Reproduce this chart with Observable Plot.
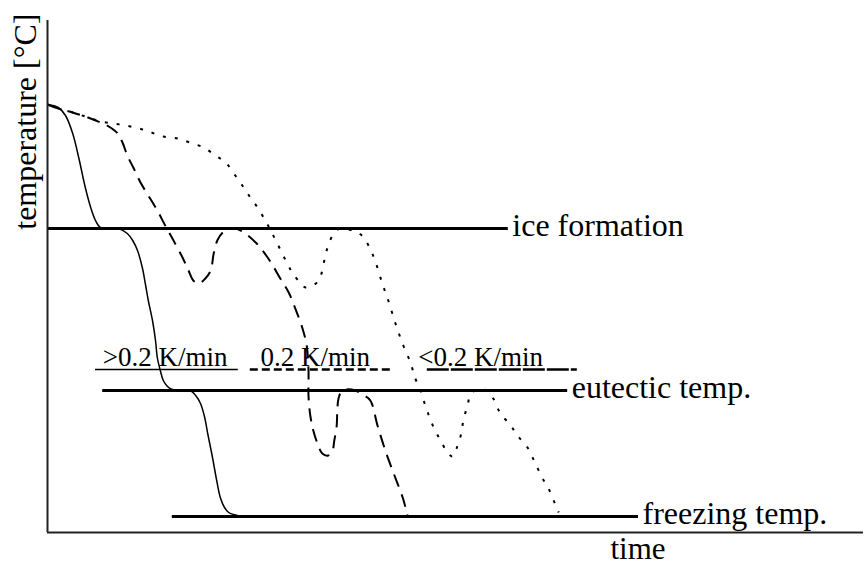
<!DOCTYPE html>
<html>
<head>
<meta charset="utf-8">
<script src="https://cdn.jsdelivr.net/npm/d3@7"></script>
<script src="https://cdn.jsdelivr.net/npm/@observablehq/plot@0.6"></script>
<style>
  html, body { margin: 0; padding: 0; background: #fff; }
  #chart { width: 864px; height: 565px; }
</style>
</head>
<body>
<div id="chart"></div>
<script>
// Schematic freezing curves: temperature against time for three cooling rates.
// Time and temperature are in arbitrary (schematic) units; 0 = ice formation.

const xDomain = [0, 136];
const yDomain = [-30.4, 20.8];

const seriesNames = [">0.2 K/min", "0.2 K/min", "<0.2 K/min"];

// fast cooling (> 0.2 K/min)
const fastCooling = [
  [0, 12.4], [1.8, 12.1], [3.0, 11.3], [4.2, 9.5], [5.2, 7.1], [6.3, 4.1],
  [7.2, 2.1], [8.0, 0.8], [8.8, 0.1], [9.8, 0], [11.8, 0], [13.3, -0.5],
  [14.2, -1.2], [15.0, -2.2], [15.8, -3.9], [16.3, -5.5], [16.8, -7.2],
  [17.5, -9.2], [18.0, -11.2], [18.3, -12.9], [18.8, -14.2], [19.3, -15.2],
  [20.0, -15.8], [20.8, -16.1], [23.8, -16.2], [24.7, -16.7], [25.5, -17.5],
  [26.2, -18.9], [26.7, -20.5], [27.5, -22.9], [28.2, -25.2], [28.8, -26.9],
  [29.5, -27.9], [30.2, -28.4], [31.0, -28.6], [32.2, -28.8]
];

// medium cooling (0.2 K/min)
const mediumCooling = [
  [0, 12.4], [1.8, 12.0], [4.2, 11.6], [6.3, 11.2], [8.8, 10.6], [10.2, 10.2],
  [11.7, 9.5], [12.5, 8.6], [13.3, 7.3], [14.3, 6.1], [15.5, 4.6], [16.8, 3.3],
  [18.3, 1.8], [19.7, 0.2], [21.0, -1.2], [22.5, -2.9], [23.5, -4.2],
  [24.3, -5.2], [25.2, -5.5], [26.3, -5.0], [27.2, -4.2], [27.7, -2.5],
  [28.3, -1.2], [29.2, -0.4], [30.2, 0], [31.3, 0], [32.5, -0.3], [34.7, -1.4],
  [36.8, -3.0], [38.8, -5.0], [40.2, -6.4], [41.3, -8.0], [42.5, -10.0],
  [43.2, -11.7], [43.5, -14.2], [43.5, -16.7], [43.8, -18.7], [44.3, -20.2],
  [45.0, -21.5], [45.8, -22.5], [46.8, -22.7], [47.5, -22.2], [47.8, -21.2],
  [48.2, -19.7], [48.3, -18.2], [48.5, -17.0], [49.0, -16.3], [49.8, -16.1],
  [51.3, -16.2], [52.5, -16.6], [53.8, -17.2], [55.0, -19.7], [56.3, -22.2],
  [57.7, -24.5], [59.2, -26.9], [60.0, -28.7]
];

// slow cooling (< 0.2 K/min)
const slowCooling = [
  [0, 12.4], [1.8, 12.0], [4.2, 11.6], [6.3, 11.2], [8.8, 10.7], [11.0, 10.5],
  [13.0, 10.3], [15.3, 10.0], [17.3, 9.6], [19.3, 9.2], [21.7, 9.0], [23.7, 8.6],
  [26.0, 8.1], [28.0, 7.3], [29.7, 6.6], [31.3, 5.3], [32.7, 4.1], [33.8, 3.1],
  [35.0, 2.1], [36.3, 0.8], [37.2, -0.2], [38.3, -1.5], [39.7, -3.2],
  [40.8, -4.4], [42.2, -5.5], [43.0, -5.9], [44.2, -5.7], [45.2, -5.2],
  [45.8, -4.2], [46.3, -2.7], [46.8, -1.7], [47.7, -0.5], [48.8, 0],
  [50.8, -0.2], [52.2, -0.6], [53.5, -1.7], [54.7, -3.4], [55.8, -5.5],
  [56.8, -7.2], [58.0, -9.5], [59.3, -11.7], [60.5, -13.4], [61.3, -15.0],
  [62.2, -16.2], [62.8, -17.4], [63.5, -18.6], [64.3, -19.8], [65.5, -21.2],
  [66.7, -22.4], [67.5, -22.8], [68.3, -21.8], [69.0, -20.4], [69.3, -19.2],
  [70.0, -17.7], [70.5, -16.6], [71.3, -16.2], [73.3, -16.2], [74.3, -17.0],
  [75.5, -18.5], [77.2, -19.7], [78.3, -20.7], [80.0, -21.9], [81.3, -23.5],
  [82.7, -25.2], [83.5, -26.0], [84.7, -27.7], [85.2, -28.4]
];

// characteristic temperature levels
const levelNames = ["ice formation", "eutectic temp.", "freezing temp."];
const levelTemps = [0, -16.2, -28.8];
const levelFrom = [0, 9.2, 20.8];
const levelTo = [76.8, 86.7, 98.5];

// rate labels above the eutectic line, each underlined in its curve's style
const legendTextAt = [9.2, 35.5, 61.8];
const legendUnderlineFrom = [8.0, 33.8, 63.3];
const legendUnderlineTo = [31.8, 57.2, 88.3];
const legendTemp = -13.7;
const legendUnderlineTemp = -14.1;

const axisLabelY = "temperature [°C]";
const axisLabelX = "time";

const curves = [fastCooling, mediumCooling, slowCooling];
const curveStyles = [
  {strokeWidth: 1.5},
  {strokeWidth: 2, strokeDasharray: "13,8"},
  {strokeWidth: 2, strokeDasharray: "3,9"}
];
const underlineStyles = [
  {strokeWidth: 1.5},
  {strokeWidth: 2.5, strokeDasharray: "8,4"},
  {strokeWidth: 2.5, strokeDasharray: "22,2"}
];

const levels = levelNames.map((name, i) => ({
  name, temp: levelTemps[i], from: levelFrom[i], to: levelTo[i]
}));
const legend = seriesNames.map((name, i) => ({
  name, at: legendTextAt[i], from: legendUnderlineFrom[i], to: legendUnderlineTo[i]
}));

const serif = "'Liberation Serif', 'Times New Roman', serif";

const chart = Plot.plot({
  width: 864,
  height: 565,
  marginLeft: 47,
  marginRight: 1,
  marginTop: 20,
  marginBottom: 33,
  x: {domain: xDomain, axis: null},
  y: {domain: yDomain, axis: null},
  style: {fontFamily: serif, background: "#fff", color: "#000"},
  marks: [
    // the three cooling curves
    ...curves.map((c, i) => Plot.line(c, {
      x: d => d[0], y: d => d[1], curve: "catmull-rom",
      stroke: "#000", strokeLinecap: "butt", ...curveStyles[i]
    })),
    // level lines and their labels
    Plot.ruleY(levels, {y: "temp", x1: "from", x2: "to", stroke: "#000", strokeWidth: 3}),
    Plot.text(levels, {
      x: "to", y: "temp", text: "name", textAnchor: "start", lineAnchor: "bottom",
      dx: 4, dy: 7, fontSize: 32, fill: "#000"
    }),
    // rate labels
    Plot.text(legend, {
      x: "at", y: () => legendTemp, text: "name", textAnchor: "start", lineAnchor: "bottom",
      fontSize: 27, fill: "#000"
    }),
    ...legend.map((d, i) => Plot.ruleY([d], {
      y: () => legendUnderlineTemp, x1: "from", x2: "to", stroke: "#000", ...underlineStyles[i]
    })),
    // axes
    Plot.ruleX([xDomain[0]], {stroke: "#222", strokeWidth: 2}),
    Plot.ruleY([yDomain[0]], {stroke: "#222", strokeWidth: 2}),
    Plot.text([axisLabelY], {
      frameAnchor: "top-left", text: d => d, rotate: -90,
      textAnchor: "end", lineAnchor: "bottom", dx: -12, dy: -7, fontSize: 32, fill: "#000"
    }),
    Plot.text([axisLabelX], {
      frameAnchor: "bottom-left", text: d => d,
      textAnchor: "start", lineAnchor: "bottom", dx: 563, dy: 26, fontSize: 31, fill: "#000"
    })
  ]
});

document.getElementById("chart").appendChild(chart);
</script>
</body>
</html>
